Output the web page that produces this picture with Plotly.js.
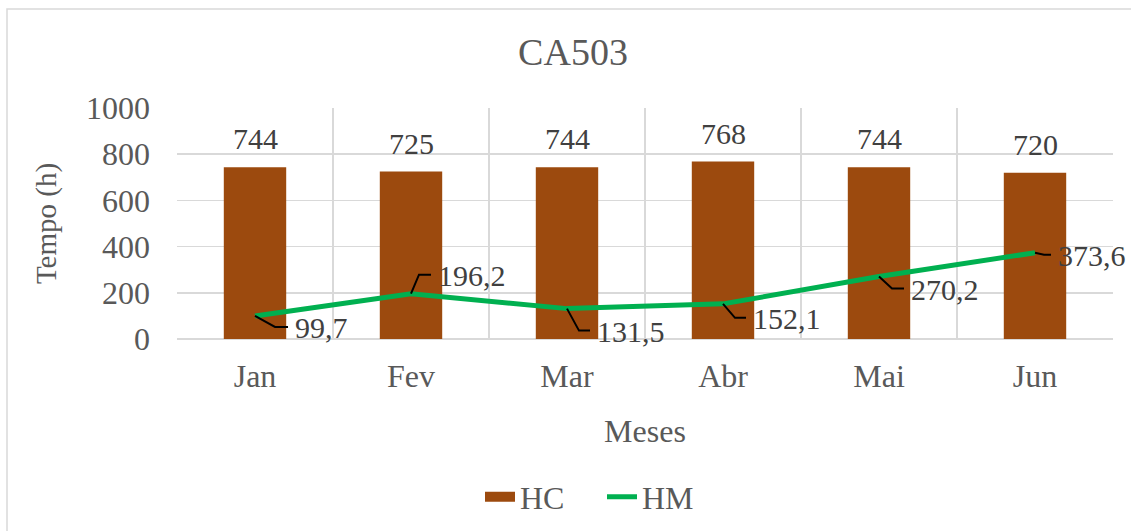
<!DOCTYPE html>
<html>
<head>
<meta charset="utf-8">
<script src="https://cdn.plot.ly/plotly-3.0.1.min.js"></script>
<style>
  html, body { margin: 0; padding: 0; background: #fff; }
  #chart { width: 1131px; height: 531px; }
</style>
</head>
<body>
<div id="chart"></div>
<script>
  var meses = ['Jan', 'Fev', 'Mar', 'Abr', 'Mai', 'Jun'];
  var hc = [744, 725, 744, 768, 744, 720];
  var hm = [99.7, 196.2, 131.5, 152.1, 270.2, 373.6];

  // leader line bend / label offsets in pixels (screen, y down)
  var leader = [[20, 11, 33], [8, -19, 20], [12, 22, 23], [12, 14, 23], [13, 12, 25], [9, 2, 16]];

  var txt = '#595959';
  var fontFam = 'Times New Roman, Liberation Serif, serif';
  var brown = '#9C4A0E';

  function fmt(v) { return v.toFixed(1).replace('.', ','); }

  var bars = {
    x: meses, y: hc, type: 'bar', name: 'HC',
    marker: { color: brown }, width: 0.4, showlegend: false
  };
  // legend entry for the bars, drawn as a wide block like the original
  var barsKey = {
    x: [null], y: [null], type: 'scatter', mode: 'lines', name: 'HC',
    line: { color: brown, width: 15 }
  };
  var line = {
    x: meses, y: hm, type: 'scatter', mode: 'lines', name: 'HM',
    line: { color: '#00B050', width: 5 }
  };

  var annotations = [];
  var shapes = [];
  hc.forEach(function(v, i) {
    annotations.push({
      x: meses[i], y: v, text: String(v), showarrow: false,
      yanchor: 'bottom', yshift: 10,
      font: { family: fontFam, size: 30, color: '#404040' }
    });
  });
  hm.forEach(function(v, i) {
    var l = leader[i];
    annotations.push({
      x: meses[i], y: v, text: fmt(v), showarrow: false,
      xanchor: 'left', yanchor: 'middle',
      xshift: l[2] + 5, yshift: -l[1] - 1,
      font: { family: fontFam, size: 30, color: '#404040' }
    });
    shapes.push({
      type: 'path', xref: 'x', yref: 'y',
      xsizemode: 'pixel', ysizemode: 'pixel',
      xanchor: meses[i], yanchor: v,
      path: 'M0,0 L' + l[0] + ',' + (-l[1]) + ' L' + l[2] + ',' + (-l[1]),
      line: { color: '#000000', width: 2 }
    });
  });

  // chart frame (top and left edges visible)
  shapes.push({
    type: 'rect', xref: 'paper', yref: 'paper',
    x0: -170 / 936, x1: 1.2, y0: -1.2, y1: 1 + 99 / 231,
    line: { color: '#D9D9D9', width: 1.5 }, layer: 'below'
  });

  var layout = {
    width: 1131, height: 531,
    margin: { l: 177, r: 18, t: 108, b: 192, autoexpand: false },
    paper_bgcolor: '#fff', plot_bgcolor: '#fff',
    font: { family: fontFam, size: 32, color: txt },
    title: {
      text: 'CA503', x: 573 / 1131, xref: 'container', xanchor: 'center',
      y: 1 - 52 / 531, yref: 'container', yanchor: 'middle',
      font: { family: fontFam, size: 38, color: txt }
    },
    showlegend: true,
    legend: {
      orientation: 'h', x: 480 / 1131, xref: 'container', xanchor: 'left',
      y: 1 - 497 / 531, yref: 'container', yanchor: 'middle',
      font: { family: fontFam, size: 32, color: txt },
      itemwidth: 30, tracegroupgap: 0, entrywidth: 77
    },
    xaxis: {
      type: 'category', tickson: 'boundaries',
      showgrid: true, gridcolor: '#D9D9D9', gridwidth: 1.5,
      showline: false, zeroline: false, ticks: '',
      tickfont: { family: fontFam, size: 32, color: txt },
      ticklabelstandoff: 15,
      title: { text: 'Meses', standoff: 26, font: { family: fontFam, size: 32, color: txt } },
      range: [-0.5, 5.5], fixedrange: true, automargin: false
    },
    yaxis: {
      range: [0, 1000], dtick: 200,
      showgrid: true, gridcolor: '#D9D9D9', gridwidth: 1.5,
      zeroline: true, zerolinecolor: '#D9D9D9', zerolinewidth: 1.5,
      showline: false, ticks: '',
      tickfont: { family: fontFam, size: 32, color: txt },
      ticklabelstandoff: 26,
      title: { text: 'Tempo (h)', standoff: 20, font: { family: fontFam, size: 29, color: txt } },
      fixedrange: true, automargin: false
    },
    annotations: annotations,
    shapes: shapes
  };

  Plotly.newPlot('chart', [bars, barsKey, line], layout, { displayModeBar: false, staticPlot: true });
</script>
</body>
</html>
